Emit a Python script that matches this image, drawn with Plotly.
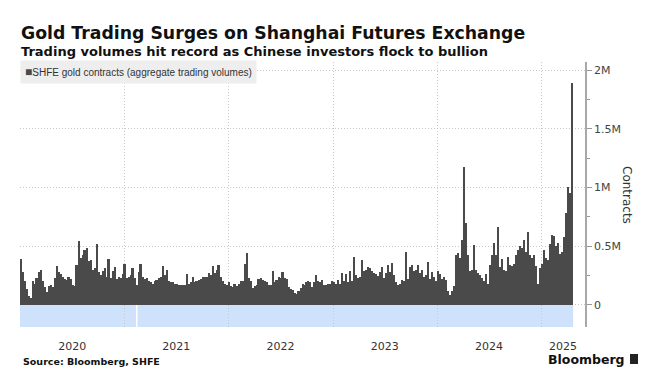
import pandas as pd
import plotly.graph_objects as go

# Weekly SHFE gold contract volumes (thousands of contracts)
volumes_k = [
    390, 280, 200, 130, 75, 60, 200, 180, 230, 280,
    300, 200, 150, 110, 160, 170, 150, 230, 330, 280,
    260, 240, 220, 210, 240, 220, 170, 160, 340, 540,
    400, 420, 470, 480, 370, 380, 300, 310, 520, 280,
    250, 290, 310, 240, 390, 230, 290, 320, 220, 240,
    230, 260, 345, 230, 240, 250, 310, 230, 170, 280,
    345, 240, 220, 230, 200, 190, 180, 200, 210, 225,
    240, 330, 250, 300, 200, 190, 195, 180, 175, 165,
    170, 165, 170, 265, 180, 190, 240, 195, 200, 210,
    220, 240, 235, 240, 270, 250, 330, 270, 300, 335,
    240, 200, 180, 170, 190, 160, 155, 180, 160, 175,
    200, 200, 345, 437, 230, 200, 140, 160, 170, 220,
    230, 210, 200, 190, 170, 165, 286, 190, 210, 235,
    230, 280, 230, 220, 150, 135, 125, 100, 95, 120,
    140, 180, 170, 195, 200, 190, 150, 190, 250, 200,
    190, 215, 165, 170, 180, 175, 200, 190, 180, 210,
    175, 274, 200, 266, 190, 290, 200, 410, 250, 225,
    240, 380, 290, 300, 320, 310, 290, 270, 260, 245,
    280, 318, 230, 270, 340, 280, 352, 250, 195, 170,
    175, 210, 200, 449, 220, 320, 338, 290, 300, 338,
    270, 300, 240, 250, 361, 220, 280, 240, 200, 290,
    260, 220, 240, 210, 120, 80, 120, 160, 420, 437,
    400, 550, 1178, 700, 420, 290, 300, 508, 300, 270,
    250, 230, 200, 260, 180, 340, 420, 523, 420, 665,
    320, 390, 300, 290, 409, 340, 330, 350, 423, 470,
    500, 480, 556, 450, 617, 420, 400, 420, 330, 180,
    310, 350, 470, 400, 380, 520, 598, 590, 500, 523,
    430, 450, 580, 780, 1007, 950, 1890,
]
start_date = "2020-01-03"
dates = pd.date_range(start_date, periods=len(volumes_k), freq="7D")
volumes = [v * 1000 for v in volumes_k]

year_starts = ["2021-01-01", "2022-01-01", "2023-01-01", "2024-01-01", "2025-01-01"]
year_label_pos = ["2020-07-01", "2021-07-01", "2022-07-01", "2023-07-01", "2024-07-01", "2025-03-17"]
year_labels = ["2020", "2021", "2022", "2023", "2024", "2025"]

y_tickvals = [0, 500000, 1000000, 1500000, 2000000]
y_ticktext = ["0", "0.5M", "1M", "1.5M", "2M"]
y_min, y_max = -190000, 2070000
x_range = ["2019-12-31", "2025-06-02"]
holiday_gap = "2021-02-12"

FONT = "DejaVu Sans"
LEGEND_FONT = "Liberation Sans"
GRID_DASH = "1px,2px"

fig = go.Figure()
fig.add_trace(go.Bar(
    x=dates, y=volumes,
    marker=dict(color="#4a4a4a", line=dict(width=0)),
    name="SHFE gold contracts (aggregate trading volumes)",
    showlegend=False,
    hoverinfo="x+y",
))

band_x0 = dates[0] - pd.Timedelta(days=3.5)
band_x1 = dates[-1] + pd.Timedelta(days=3.5)
fig.add_shape(type="rect", xref="x", yref="y", x0=band_x0, x1=band_x1,
              y0=y_min, y1=0, fillcolor="#cfe2fb", line=dict(width=0), layer="below")
fig.add_shape(type="line", xref="x", yref="y", x0=holiday_gap, x1=holiday_gap,
              y0=y_min, y1=0, line=dict(color="white", width=1.5), layer="below")

fig.update_layout(
    width=658, height=382,
    margin=dict(l=20, r=73, t=62, b=55),
    paper_bgcolor="white", plot_bgcolor="white",
    bargap=0,
    font=dict(family=FONT, color="#333333"),
    xaxis=dict(
        type="date", range=x_range,
        tickmode="array", tickvals=year_label_pos, ticktext=year_labels,
        ticks="outside", ticklen=9, tickcolor="rgba(0,0,0,0)",
        tickfont=dict(size=11, color="#333333", family=FONT),
        showgrid=False, zeroline=False, showline=False,
        minor=dict(tickmode="array", tickvals=year_starts, showgrid=True,
                   gridcolor="#c8c8c8", griddash=GRID_DASH, gridwidth=1, ticks=""),
    ),
    yaxis=dict(
        side="right", range=[y_min, y_max],
        tickmode="array", tickvals=y_tickvals, ticktext=y_ticktext,
        ticks="outside", ticklen=5, tickcolor="#999999", tickwidth=1,
        tickfont=dict(size=11, color="#444444", family=FONT),
        showgrid=True, gridcolor="#c8c8c8", griddash=GRID_DASH, gridwidth=1,
        zeroline=False, showline=True, linecolor="#a8a8a8", linewidth=1.5,
        minor=dict(tickmode="linear", tick0=0, dtick=250000, ticks="outside",
                   ticklen=3, tickcolor="#999999", showgrid=False),
    ),
)

def py(ypx):
    return (327 - ypx) / 265.0

def px(xpx):
    return (xpx - 20) / 565.0

fig.add_annotation(text="<b>Gold Trading Surges on Shanghai Futures Exchange</b>",
                   xref="paper", yref="paper", x=px(19), y=py(33),
                   xanchor="left", yanchor="middle", showarrow=False,
                   font=dict(size=17.3, color="#111111", family=FONT))
fig.add_annotation(text="<b>Trading volumes hit record as Chinese investors flock to bullion</b>",
                   xref="paper", yref="paper", x=px(19), y=py(51),
                   xanchor="left", yanchor="middle", showarrow=False,
                   font=dict(size=13, color="#111111", family=FONT))
fig.add_annotation(text="<span style='color:#4a4a4a;font-size:12px'>■</span>SHFE gold contracts (aggregate trading volumes)",
                   xref="paper", yref="paper", x=0, y=py(72),
                   xanchor="left", yanchor="middle", showarrow=False,
                   bgcolor="#eeeeee", borderpad=4,
                   font=dict(size=10, color="#333333", family=LEGEND_FONT))
fig.add_annotation(text="Contracts", textangle=90,
                   xref="paper", yref="paper", x=px(627), y=py(195),
                   xanchor="center", yanchor="middle", showarrow=False,
                   font=dict(size=12, color="#333333", family=FONT))
fig.add_annotation(text="<b>Source: Bloomberg, SHFE</b>",
                   xref="paper", yref="paper", x=px(21), y=py(361),
                   xanchor="left", yanchor="middle", showarrow=False,
                   font=dict(size=9.5, color="#111111", family=FONT))
fig.add_annotation(text="<b>Bloomberg</b>",
                   xref="paper", yref="paper", x=px(627), y=py(359),
                   xanchor="right", yanchor="middle", showarrow=False,
                   font=dict(size=12.5, color="#111111", family=FONT))
fig.add_shape(type="rect", xref="paper", yref="paper",
              x0=px(630), x1=px(638), y0=py(364), y1=py(354),
              fillcolor="#222222", line=dict(width=0))

fig.write_html("out.html", config={"displayModeBar": False},
               post_script="document.body.style.margin='0px';")
